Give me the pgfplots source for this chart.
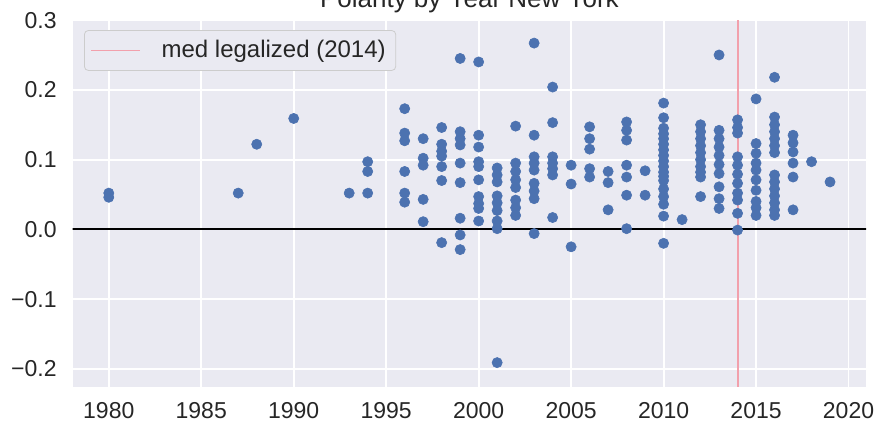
\documentclass[border=0pt]{standalone}
\usepackage{fontspec}
\setmainfont{Liberation Sans}
\usepackage{pgfplots}
\pgfplotsset{compat=1.18}
\definecolor{bgcol}{HTML}{EAEAF2}
\definecolor{ptcol}{HTML}{4C72B0}
\definecolor{txtcol}{HTML}{262626}
\definecolor{legalred}{RGB}{242,160,172}
\definecolor{legedge}{HTML}{CCCCCC}
\begin{document}
\begin{tikzpicture}
\begin{axis}[
  scale only axis,
  width=396.7pt, height=183.3pt,
  xmin=1978.05, xmax=2020.95,
  ymin=-0.2255, ymax=0.3,
  axis background/.style={fill=bgcol},
  axis line style={draw=none},
  major tick length=0pt,
  grid=major,
  grid style={white, line width=0.9pt},
  xtick={1980,1985,1990,1995,2000,2005,2010,2015,2020},
  xticklabels={1980,1985,1990,1995,2000,2005,2010,2015,2020},
  ytick={-0.2,-0.1,0,0.1,0.2,0.3},
  yticklabels={−0.2,−0.1,0.0,0.1,0.2,0.3},
  ticklabel style={font=\fontsize{11.5}{13}\selectfont, text=txtcol},
  xticklabel style={yshift=-4.5pt},
  yticklabel style={xshift=-4.5pt},
  every axis title shift=0pt,
  title={Polarity by Year New York},
  title style={at={(0.5,1)}, anchor=base, yshift=6.25pt, font=\fontsize{13}{15}\selectfont, text=txtcol},
  legend style={at={(0,1)}, anchor=north west, xshift=5.65pt, yshift=-5pt,
    draw=legedge, fill=bgcol, rounded corners=2pt,
    inner xsep=3pt, inner ysep=2.9pt,
    font=\fontsize{12}{14}\selectfont, text=txtcol,
    /tikz/every odd column/.append style={column sep=8.7pt}},
  legend image code/.code={\draw[#1] (0pt,0pt) -- (24.3pt,0pt);},
  clip=true,
]
\addplot[only marks, color=ptcol, mark=*, mark size=2.55pt, line width=0.3pt, forget plot] coordinates {
(1980,0.052)(1980,0.046)
(1987,0.052)
(1988,0.122)
(1990,0.159)
(1993,0.052)
(1994,0.097)(1994,0.083)(1994,0.052)
(1996,0.173)(1996,0.138)(1996,0.127)(1996,0.083)(1996,0.052)(1996,0.039)
(1997,0.130)(1997,0.102)(1997,0.092)(1997,0.043)(1997,0.011)
(1998,0.146)(1998,0.122)(1998,0.112)(1998,0.105)(1998,0.090)(1998,0.070)(1998,-0.019)
(1999,0.245)(1999,0.140)(1999,0.130)(1999,0.121)(1999,0.095)(1999,0.067)(1999,0.016)(1999,-0.008)(1999,-0.029)
(2000,0.240)(2000,0.135)(2000,0.118)(2000,0.097)(2000,0.090)(2000,0.071)(2000,0.047)(2000,0.037)(2000,0.030)(2000,0.012)
(2001,0.088)(2001,0.078)(2001,0.068)(2001,0.048)(2001,0.038)(2001,0.027)(2001,0.012)(2001,0.001)(2001,-0.191)
(2002,0.148)(2002,0.095)(2002,0.083)(2002,0.071)(2002,0.060)(2002,0.042)(2002,0.031)(2002,0.020)
(2003,0.267)(2003,0.135)(2003,0.104)(2003,0.095)(2003,0.085)(2003,0.066)(2003,0.055)(2003,0.044)(2003,-0.006)
(2004,0.204)(2004,0.153)(2004,0.104)(2004,0.095)(2004,0.087)(2004,0.078)(2004,0.017)
(2005,0.092)(2005,0.065)(2005,-0.025)
(2006,0.147)(2006,0.130)(2006,0.115)(2006,0.087)(2006,0.075)
(2007,0.083)(2007,0.067)(2007,0.028)
(2008,0.154)(2008,0.142)(2008,0.128)(2008,0.092)(2008,0.075)(2008,0.049)(2008,0.001)
(2009,0.084)(2009,0.049)
(2010,0.181)(2010,0.160)(2010,0.145)(2010,0.137)(2010,0.130)(2010,0.122)(2010,0.114)(2010,0.106)(2010,0.098)(2010,0.090)(2010,0.082)(2010,0.076)(2010,0.070)(2010,0.058)(2010,0.047)(2010,0.036)(2010,0.019)(2010,-0.020)
(2011,0.014)
(2012,0.150)(2012,0.140)(2012,0.130)(2012,0.120)(2012,0.110)(2012,0.100)(2012,0.090)(2012,0.082)(2012,0.075)(2012,0.047)
(2013,0.250)(2013,0.142)(2013,0.130)(2013,0.118)(2013,0.106)(2013,0.093)(2013,0.080)(2013,0.061)(2013,0.044)(2013,0.030)
(2014,0.157)(2014,0.146)(2014,0.138)(2014,0.104)(2014,0.092)(2014,0.079)(2014,0.066)(2014,0.052)(2014,0.042)(2014,0.023)(2014,-0.001)
(2015,0.187)(2015,0.123)(2015,0.109)(2015,0.095)(2015,0.085)(2015,0.071)(2015,0.056)(2015,0.040)(2015,0.031)(2015,0.020)
(2016,0.218)(2016,0.161)(2016,0.150)(2016,0.140)(2016,0.130)(2016,0.120)(2016,0.110)(2016,0.078)(2016,0.068)(2016,0.058)(2016,0.048)(2016,0.038)(2016,0.028)(2016,0.020)
(2017,0.135)(2017,0.124)(2017,0.111)(2017,0.095)(2017,0.075)(2017,0.028)
(2018,0.097)
(2019,0.068)
};
\addplot[color=black, line width=0.9pt, forget plot] coordinates {(1977,0)(2022,0)};
\addplot[draw=legalred, line width=0.6pt, mark=none] table {
x y
2014.02 -0.2255
2014.02 0.3
};
\addlegendentry{med legalized (2014)}
\end{axis}
\pgfresetboundingbox
\useasboundingbox (-36.35pt,-17.65pt) rectangle (402.15pt,193.35pt);
\end{tikzpicture}
\end{document}
